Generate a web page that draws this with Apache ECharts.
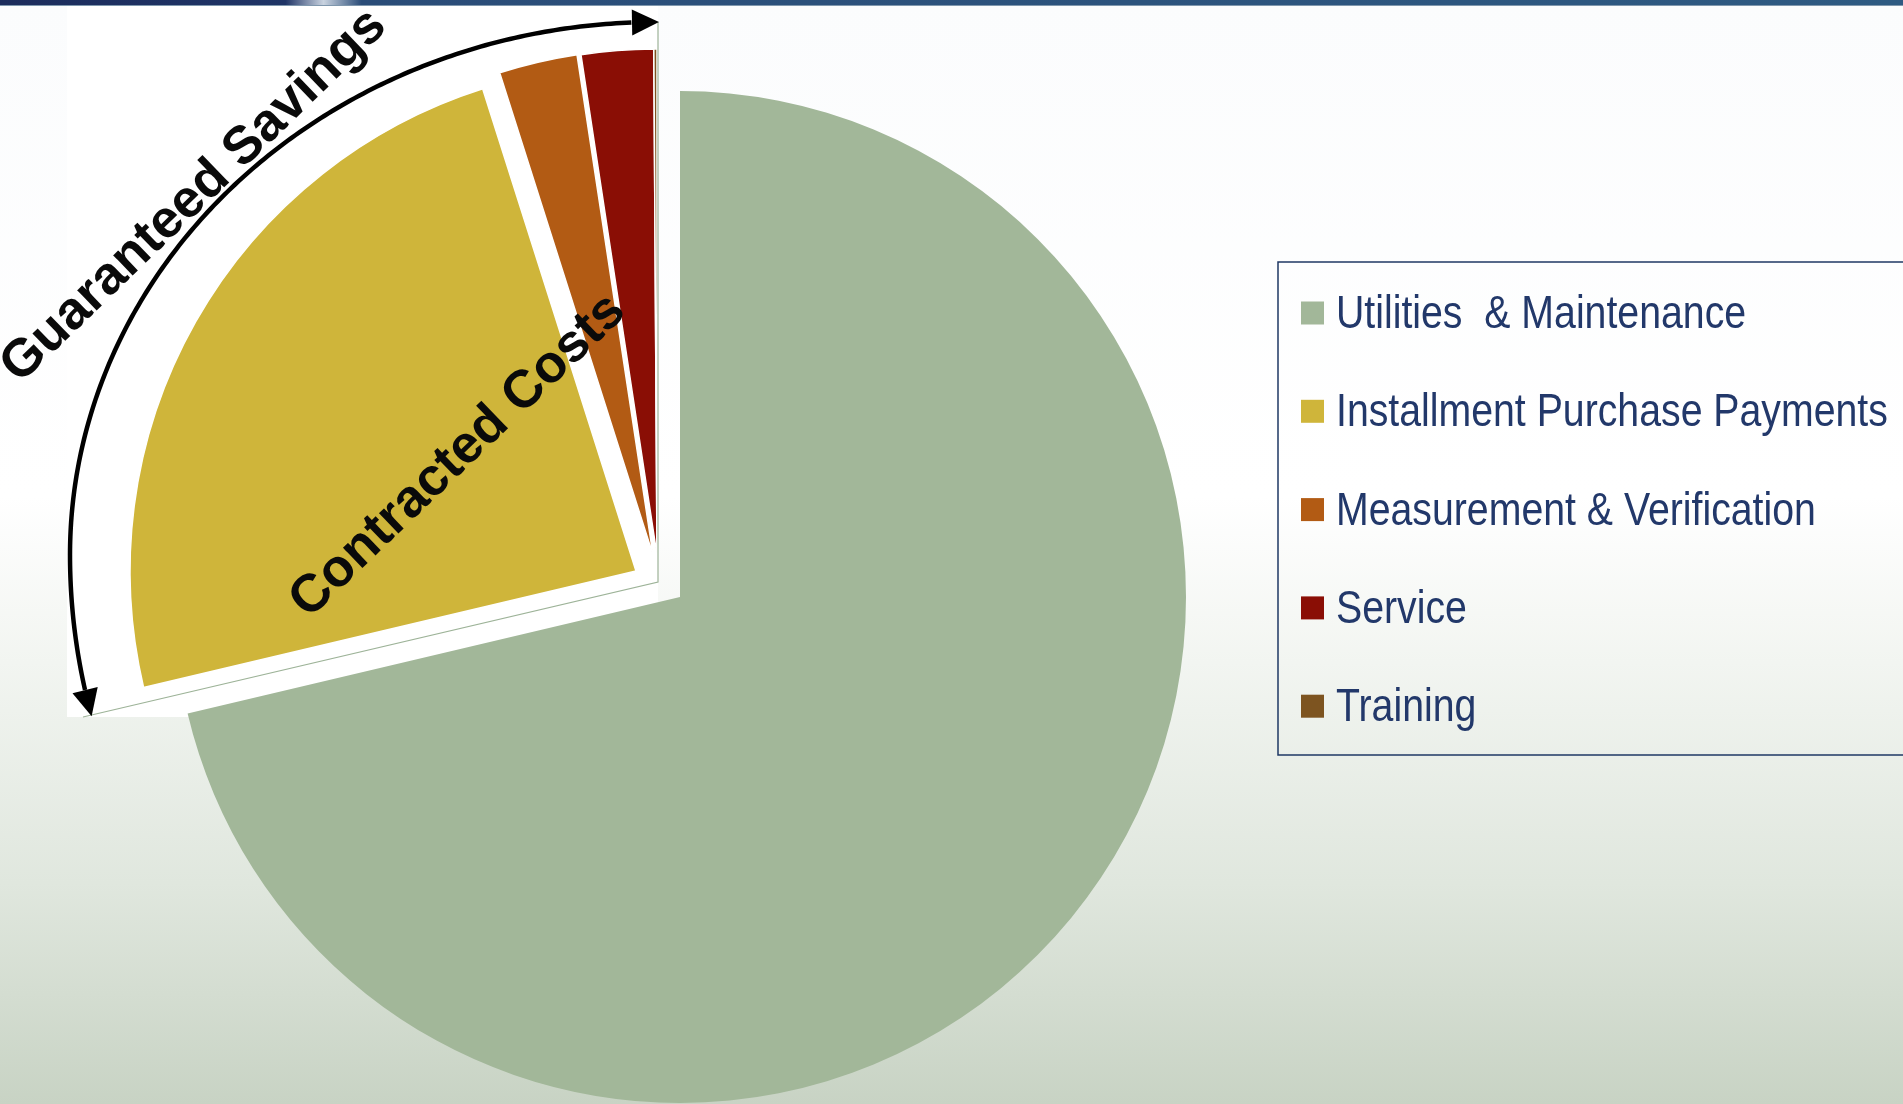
<!DOCTYPE html>
<html>
<head>
<meta charset="utf-8">
<title>Guaranteed Savings</title>
<style>
  html, body { margin: 0; padding: 0; }
  #container { width: 1903px; height: 1104px; }
</style>
<script src="https://cdn.jsdelivr.net/npm/echarts@6/dist/echarts.min.js"></script>
</head>
<body>
<div id="container"></div>
<script>
const categories = [
  "Utilities  & Maintenance",
  "Installment Purchase Payments",
  "Measurement & Verification",
  "Service",
  "Training"
];
const shares = [71.3, 23.8, 2.5, 2.3, 0.1];
const colors = ["#a2b799", "#cfb53a", "#b25b14", "#8a0e05", "#7d5420"];
const callouts = ["Guaranteed Savings", "Contracted Costs"];

// the contracted-cost slices are pulled out, each on its own centre
const centres = [[680, 597], [636, 571], [653, 555], [657, 555], [657, 555]];
const R = 506;

// legend rows
const legendX = 1301, legendY = 313, legendStep = 98.3;

let dom = document.getElementById("container");
let myChart = echarts.init(dom, null, { renderer: "canvas" });

function sliceSeries(idx) {
  return {
    type: "pie",
    name: categories[idx],
    center: centres[idx],
    radius: R,
    startAngle: 90,
    clockwise: true,
    silent: true,
    animation: false,
    label: { show: false },
    labelLine: { show: false },
    emphasis: { disabled: true },
    data: categories.map((c, i) => ({
      name: c,
      value: shares[i],
      itemStyle: i === idx
        ? { color: colors[i], borderColor: "#ffffff", borderWidth: idx === 0 ? 0 : 1.5 }
        : { color: "rgba(0,0,0,0)", borderWidth: 0 }
    }))
  };
}

// curved "Guaranteed Savings" arrow round the pulled-out slices
const ell = { cx: 657, cy: 555, rx: 587, ry: 533, ryLow: 600 };
function ellPt(deg) {
  const t = deg * Math.PI / 180;
  const ry = deg < 0 ? ell.ryLow : ell.ry;
  return [ell.cx - ell.rx * Math.cos(t), ell.cy - ry * Math.sin(t)];
}
const arcPts = [];
for (let d = -13; d <= 87.5; d += 0.5) arcPts.push(ellPt(d));
function head(tip, from) {
  const dx = tip[0] - from[0], dy = tip[1] - from[1];
  const L = Math.hypot(dx, dy), ux = dx / L, uy = dy / L;
  const bx = tip[0] - ux * 27, by = tip[1] - uy * 27;
  return [tip, [bx - uy * 13, by + ux * 13], [bx + uy * 13, by - ux * 13]];
}

const calloutFont = 'bold 53px "Liberation Sans", Arial, sans-serif';

// legend labels: Arial Narrow look, squeezed Liberation Sans
const legendLabels = categories.map((c, i) => ({
  type: "text", z: 20, silent: true,
  x: legendX + 35, y: legendY + 2 + i * legendStep,
  scaleX: 0.835,
  style: {
    text: c,
    font: '47px "Liberation Sans", Arial, sans-serif',
    fill: "#22386a",
    textAlign: "left",
    textVerticalAlign: "middle"
  }
}));

let option = {
  animation: false,
  graphic: [
    {
      type: "rect", z: -10, silent: true,
      shape: { x: 0, y: 0, width: 1903, height: 1104 },
      style: {
        fill: new echarts.graphic.LinearGradient(0, 0, 0, 1, [
          { offset: 0, color: "#fbfcfd" },
          { offset: 0.45, color: "#ffffff" },
          { offset: 0.6, color: "#f2f5f1" },
          { offset: 0.8, color: "#e0e7de" },
          { offset: 1, color: "#c8d3c4" }
        ])
      }
    },
    {
      type: "rect", z: -9, silent: true,
      shape: { x: 0, y: 0, width: 1903, height: 5 },
      style: {
        fill: new echarts.graphic.LinearGradient(0, 0, 1, 0, [
          { offset: 0, color: "#1c2c5c" },
          { offset: 0.15, color: "#1f3466" },
          { offset: 0.17, color: "#c9d3e0" },
          { offset: 0.19, color: "#2a4c78" },
          { offset: 1, color: "#2e5a82" }
        ])
      }
    },
    {
      type: "rect", z: -9, silent: true,
      shape: { x: 0, y: 5, width: 1903, height: 1 },
      style: { fill: "#7f97ad" }
    },
    // white backing of the pulled-out slices
    {
      type: "rect", z: -5, silent: true,
      shape: { x: 67, y: 6, width: 591, height: 711 },
      style: { fill: "#ffffff" }
    },
    {
      type: "polyline", z: 5, silent: true,
      shape: { points: [[83, 717], [658, 582], [658, 22]] },
      style: { stroke: "#9db398", lineWidth: 1.2, fill: null }
    },
    {
      type: "polyline", z: 20, silent: true,
      shape: { points: arcPts },
      style: { stroke: "#000000", lineWidth: 4.5, fill: null }
    },
    {
      type: "polygon", z: 20, silent: true,
      shape: { points: head([659, 22], ellPt(87.5)) },
      style: { fill: "#000000" }
    },
    {
      type: "polygon", z: 20, silent: true,
      shape: { points: head(ellPt(-15.6), ellPt(-13)) },
      style: { fill: "#000000" }
    },
    {
      type: "text", z: 20, silent: true,
      x: 194, y: 196, rotation: 44 * Math.PI / 180,
      style: {
        text: callouts[0], font: calloutFont, fill: "#0a0a0a",
        textAlign: "center", textVerticalAlign: "middle"
      }
    },
    {
      type: "text", z: 20, silent: true,
      x: 458, y: 456, rotation: 43.8 * Math.PI / 180,
      style: {
        text: callouts[1], font: calloutFont, fill: "#0a0a0a",
        textAlign: "center", textVerticalAlign: "middle"
      }
    },
    // legend frame
    {
      type: "rect", z: 5, silent: true,
      shape: { x: 1278, y: 262, width: 640, height: 493 },
      style: { fill: null, stroke: "#1f3864", lineWidth: 1.5 }
    }
  ].concat(legendLabels),
  legend: {
    orient: "vertical",
    left: legendX,
    top: legendY - 11.5,
    padding: 0,
    itemWidth: 23,
    itemHeight: 23,
    itemGap: legendStep - 23,
    icon: "rect",
    selectedMode: false,
    formatter: () => "",
    data: categories.map((c, i) => ({ name: c, itemStyle: { color: colors[i] } })),
    textStyle: { fontSize: 10, lineHeight: 10 }
  },
  series: categories.map((c, i) => sliceSeries(i))
};

if (option && typeof option === "object") {
  myChart.setOption(option);
}

window.addEventListener("resize", myChart.resize);
</script>
</body>
</html>
